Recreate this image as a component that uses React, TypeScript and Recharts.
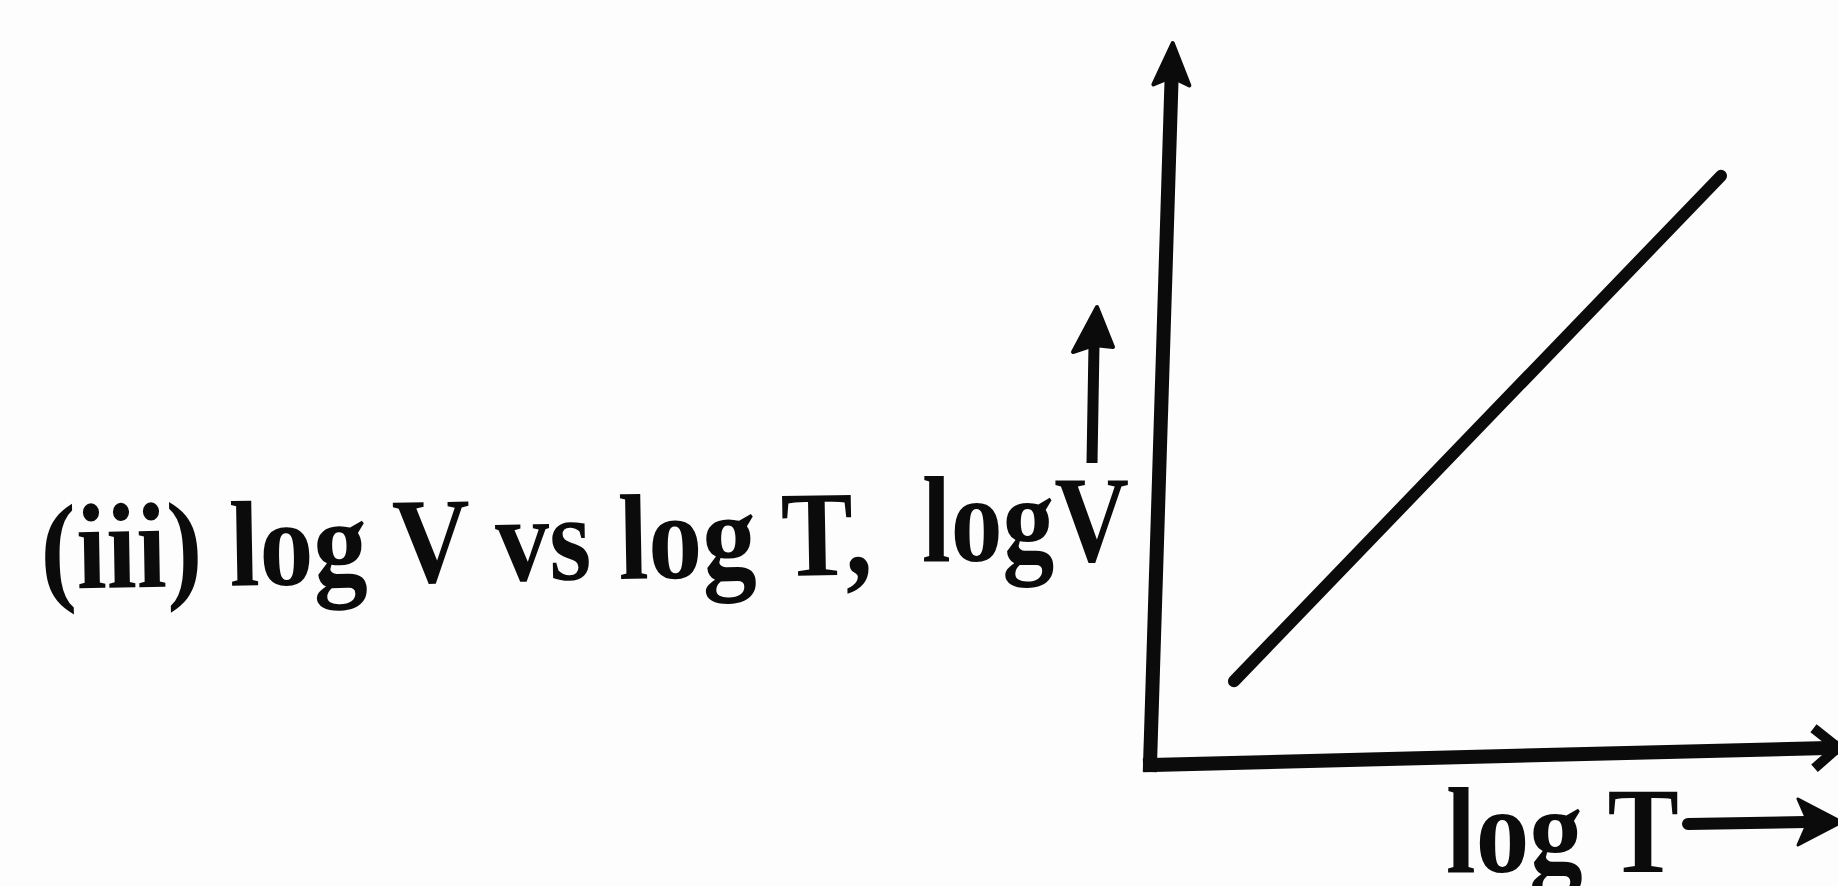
import { Line, LineChart, ReferenceLine, XAxis, YAxis } from "recharts";

// log T / log V end points of the straight line
const logT = [1.22, 8.3];
const logV = [1.16, 8.16];

// hand-drawn axes, slightly skewed, in data units
const yAxisSeg = [
  { x: 0, y: 0 },
  { x: 0.33, y: 10 },
];
const xAxisSeg = [
  { x: 0, y: 0 },
  { x: 10, y: 0.24 },
];

const INK = "#0b0b0b";
const SERIF = "Liberation Serif, Times New Roman, serif";

type Pt = { x: number; y: number };

function arrowAxis(kind: "solid" | "open") {
  return (props: any) => {
    const { x1, y1, x2, y2 } = props;
    const dx = x2 - x1;
    const dy = y2 - y1;
    const len = Math.hypot(dx, dy) || 1;
    const ux = dx / len;
    const uy = dy / len;
    const nx = -uy;
    const ny = ux;
    if (kind === "solid") {
      const headLen = 42;
      const half = 18;
      const bx = x2 - ux * headLen;
      const by = y2 - uy * headLen;
      const notch = { x: x2 - ux * (headLen - 8), y: y2 - uy * (headLen - 8) };
      const pts: Pt[] = [
        { x: x2, y: y2 },
        { x: bx + nx * half, y: by + ny * half },
        notch,
        { x: bx - nx * half, y: by - ny * half },
      ];
      return (
        <g>
          <line x1={x1} y1={y1} x2={notch.x} y2={notch.y} stroke={INK} strokeWidth={14} strokeLinecap="square" />
          <polygon points={pts.map((p) => `${p.x},${p.y}`).join(" ")} fill={INK} stroke={INK} strokeWidth={4} strokeLinejoin="round" />
        </g>
      );
    }
    const headLen = 24;
    const half = 20;
    const bx = x2 - ux * headLen;
    const by = y2 - uy * headLen;
    return (
      <g>
        <line x1={x1} y1={y1} x2={x2 - ux * 4} y2={y2 - uy * 4} stroke={INK} strokeWidth={14} strokeLinecap="square" />
        <polyline
          points={`${bx + nx * half},${by + ny * half} ${x2},${y2} ${bx - nx * half},${by - ny * half}`}
          fill="none"
          stroke={INK}
          strokeWidth={10}
          strokeLinejoin="miter"
        />
      </g>
    );
  };
}

export default function App() {
  const data = logT.map((t, i) => ({ logT: t, logV: logV[i] }));
  const textStyle = { fontFamily: SERIF, fontWeight: 700 } as const;

  return (
    <div
      style={{
        position: "absolute",
        left: 0,
        top: 0,
        width: 1838,
        height: 886,
        background: "#fdfdfd",
        overflow: "hidden",
      }}
    >
      <LineChart
        width={1838}
        height={886}
        data={data}
        margin={{ top: 43, right: 0, bottom: 121, left: 1150 }}
      >
        <XAxis type="number" dataKey="logT" domain={[0, 10]} hide />
        <YAxis type="number" domain={[0, 10]} hide />
        <ReferenceLine segment={yAxisSeg} shape={arrowAxis("solid")} />
        <ReferenceLine segment={xAxisSeg} shape={arrowAxis("open")} />
        <Line
          type="linear"
          dataKey="logV"
          stroke={INK}
          strokeWidth={12}
          strokeLinecap="round"
          dot={false}
          activeDot={false}
          isAnimationActive={false}
        />
      </LineChart>

      <svg
        width={1838}
        height={886}
        style={{ position: "absolute", left: 0, top: 0, pointerEvents: "none" }}
      >
        <g style={textStyle} fill={INK}>
          <text
            x={41}
            y={589}
            fontSize={122}
            textLength={832}
            lengthAdjust="spacingAndGlyphs"
            transform="rotate(-1 41 589)"
          >
            (iii) log V vs log T,
          </text>
          <text x={922} y={561} fontSize={122} textLength={207} lengthAdjust="spacingAndGlyphs">
            logV
          </text>
          <text x={1446} y={872} fontSize={122} textLength={233} lengthAdjust="spacingAndGlyphs">
            log T
          </text>
        </g>

        {/* small arrow beside the y label */}
        <line x1={1092} y1={463} x2={1094} y2={345} stroke={INK} strokeWidth={11} />
        <polygon points="1097,307 1073,352 1094,345 1113,347" fill={INK} stroke={INK} strokeWidth={4} strokeLinejoin="round" />

        {/* arrow after log T */}
        <line x1={1688} y1={824} x2={1806} y2={822} stroke={INK} strokeWidth={12} strokeLinecap="round" />
        <polygon points="1798,799 1842,822 1798,845 1808,822" fill={INK} stroke={INK} strokeWidth={3} strokeLinejoin="round" />
      </svg>
    </div>
  );
}
